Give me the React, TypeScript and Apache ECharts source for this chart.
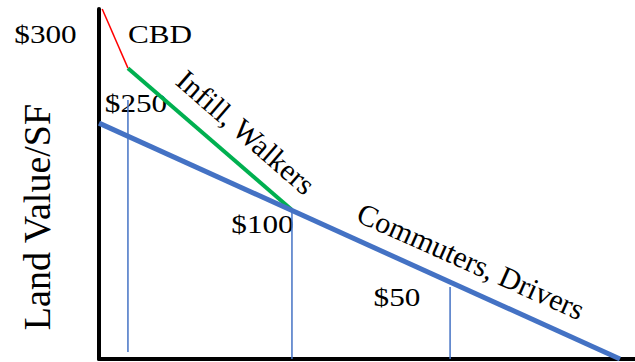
import React, { useEffect, useRef } from "react";
import * as echarts from "echarts";

// Distance from centre (x, 0-100) vs land value index (y, 0-100)
const cbdSegment: number[][] = [[0.6, 100], [5.4, 83.1]];
const infillSegment: number[][] = [[5.4, 83.1], [36, 42.6]];
const commuterSegment: number[][] = [[0, 67.4], [97.2, 0]];
const dropX: number[] = [5.4, 36, 65.5];
const dropTop: number[] = [74, 42.6, 20.6];
const dropBottom: number[] = [2, 0, 0];

const priceLabels: string[] = ["$300", "$250", "$100", "$50"];
const zoneLabels: string[] = ["CBD", "Infill, Walkers", "Commuters, Drivers"];
const yTitle = "Land Value/SF";

const FONT = "Liberation Serif";
const BLUE = "#4472C4";

export default function App() {
  const ref = useRef<HTMLDivElement>(null);
  useEffect(() => {
    if (!ref.current) return;
    const chart = echarts.init(ref.current, undefined, { renderer: "svg" });
    const dropSeries = dropX.map((x, i) => ({
      type: "line",
      data: [[x, dropTop[i]], [x, dropBottom[i]]],
      showSymbol: false,
      silent: true,
      z: 2,
      lineStyle: { color: BLUE, width: 1.5 },
    }));
    const hText = (text: string, x: number, y: number) => ({
      type: "text",
      x,
      y,
      scaleX: 1.2,
      style: { text, fontSize: 26, fontFamily: FONT, fill: "#000", align: "center", verticalAlign: "middle" },
    });
    const rText = (text: string, x: number, y: number, deg: number, size: number) => ({
      type: "text",
      x,
      y,
      rotation: (deg * Math.PI) / 180,
      style: { text, fontSize: size, fontFamily: FONT, fill: "#000", align: "center", verticalAlign: "middle" },
    });
    chart.setOption({
      animation: false,
      backgroundColor: "#fff",
      grid: { left: 99, right: 0, top: 9, bottom: 3 },
      xAxis: {
        type: "value",
        min: 0,
        max: 100,
        axisLine: { show: true, lineStyle: { color: "#000", width: 4 } },
        axisTick: { show: false },
        axisLabel: { show: false },
        splitLine: { show: false },
      },
      yAxis: {
        type: "value",
        min: 0,
        max: 100,
        axisLine: { show: true, lineStyle: { color: "#000", width: 4 } },
        axisTick: { show: false },
        axisLabel: { show: false },
        splitLine: { show: false },
      },
      series: [
        ...dropSeries,
        { type: "line", data: cbdSegment, showSymbol: false, z: 3, lineStyle: { color: "#FF0000", width: 1.5 } },
        { type: "line", data: infillSegment, showSymbol: false, z: 3, lineStyle: { color: "#00B050", width: 4 } },
        { type: "line", data: commuterSegment, showSymbol: false, z: 4, lineStyle: { color: BLUE, width: 5 } },
      ],
      graphic: [
        hText(priceLabels[0], 45.5, 34),
        hText(zoneLabels[0], 160, 34),
        hText(priceLabels[1], 136, 103),
        hText(priceLabels[2], 262.5, 224),
        hText(priceLabels[3], 397, 297),
        rText(zoneLabels[1], 246, 132, -41, 30),
        rText(zoneLabels[2], 471, 261, -24, 30),
        rText(yTitle, 37, 217, 90, 38),
      ],
    });
    return () => chart.dispose();
  }, []);
  return (
    <div
      ref={ref}
      style={{ position: "absolute", left: 0, top: 0, width: 635, height: 362, background: "#fff" }}
    />
  );
}
